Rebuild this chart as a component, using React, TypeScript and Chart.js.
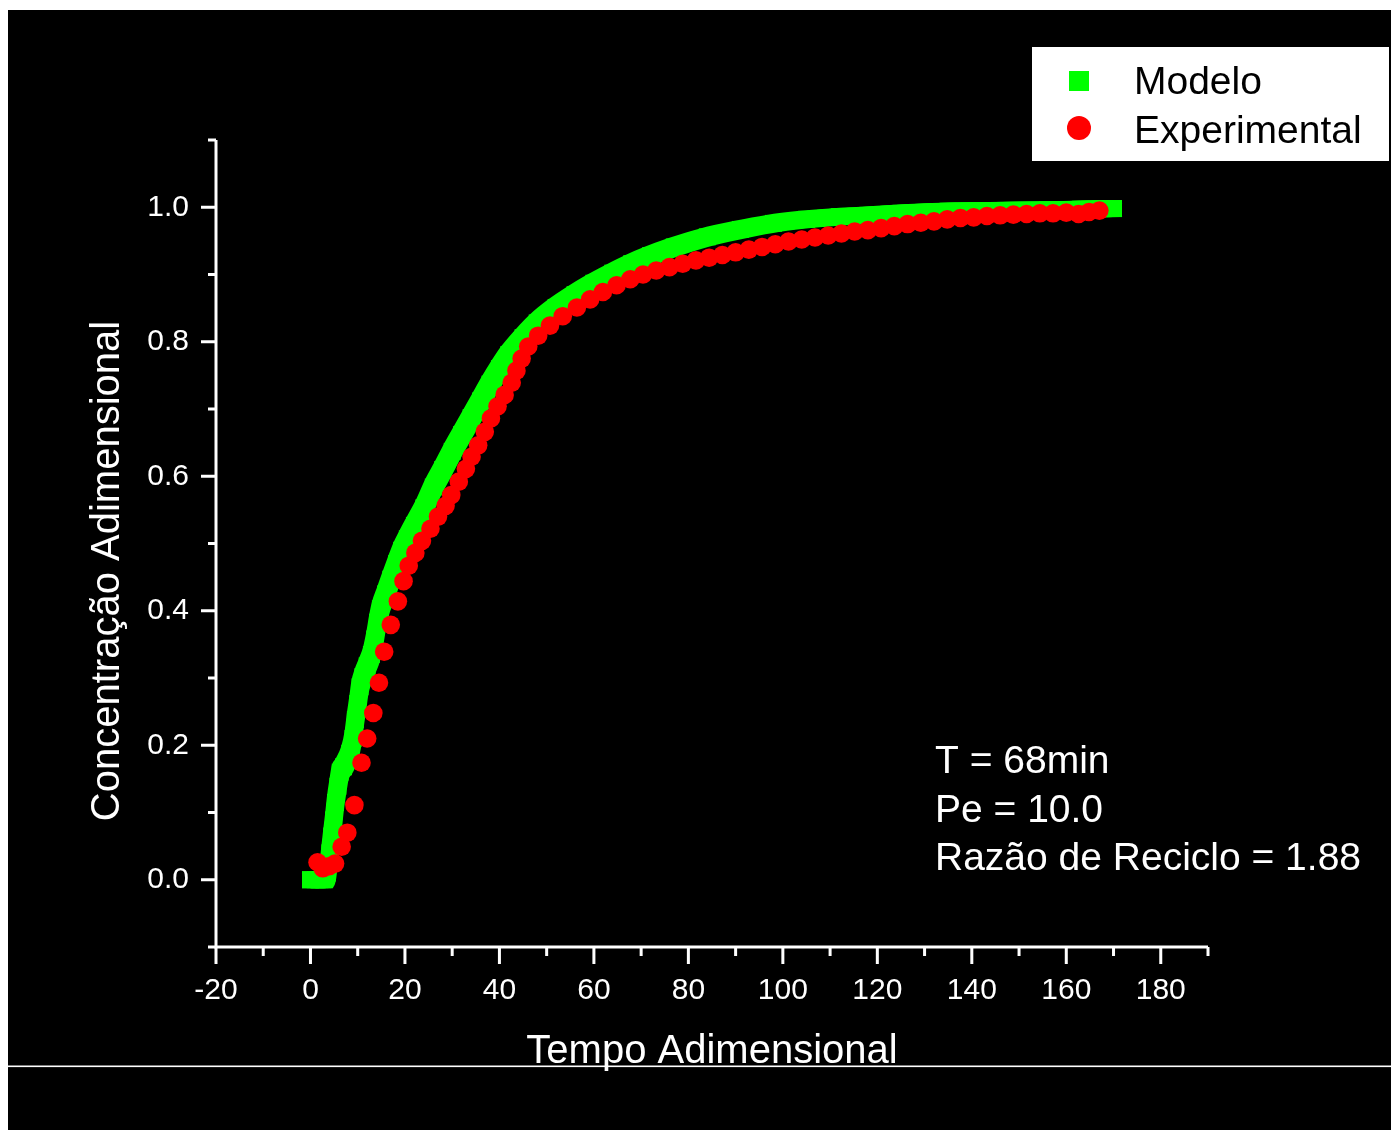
import { useEffect, useRef } from "react";
import { Chart, registerables } from "chart.js";

Chart.register(...registerables);

// ---- data ----
const xTickValues = [-20, 0, 20, 40, 60, 80, 100, 120, 140, 160, 180];
const yTickValues = [0, 0.2, 0.4, 0.6, 0.8, 1.0];

const seriesNames = ["Modelo", "Experimental"];

const modelX = [0, 1, 2, 3, 3.6, 4.1, 4.5, 4.9, 5.3, 5.8, 6.3, 7.0, 8.3, 9.0, 9.5, 10.0, 10.5, 11.1, 12.0, 12.9, 13.6, 14.2, 14.8, 15.9, 17.0, 18.2, 19.3, 20.5, 22.0, 24.0, 26.0, 28.0, 30.0, 32.0, 34.0, 36.0, 38.0, 40.0, 42.0, 45.0, 48.0, 52.0, 56.0, 60.0, 64.0, 68.0, 72.0, 77.0, 84.0, 91.0, 98.0, 105.0, 112.0, 118.0, 125.0, 135.0, 145.0, 156.0, 163.0, 170.0];
const modelY = [0, 0, 0, 0, 0.01, 0.04, 0.065, 0.089, 0.115, 0.139, 0.16, 0.168, 0.188, 0.21, 0.238, 0.262, 0.287, 0.302, 0.318, 0.335, 0.358, 0.383, 0.403, 0.425, 0.447, 0.47, 0.49, 0.507, 0.527, 0.553, 0.584, 0.61, 0.637, 0.662, 0.687, 0.712, 0.737, 0.76, 0.781, 0.806, 0.828, 0.851, 0.87, 0.887, 0.902, 0.916, 0.928, 0.941, 0.956, 0.967, 0.976, 0.982, 0.986, 0.988, 0.991, 0.994, 0.995, 0.996, 0.997, 0.998];

const expX = [1.5, 2.6, 3.9, 5.2, 6.6, 7.8, 9.3, 10.8, 12.0, 13.3, 14.5, 15.6, 17.0, 18.5, 19.7, 20.8, 22.2, 23.6, 25.4, 27.0, 28.6, 29.8, 31.4, 32.9, 34.1, 35.5, 36.9, 38.2, 39.6, 41.1, 42.6, 43.6, 44.7, 46.1, 48.2, 50.7, 53.4, 56.4, 59.2, 61.9, 64.8, 67.7, 70.4, 73.2, 76.0, 78.8, 81.6, 84.4, 87.2, 90.0, 92.8, 95.6, 98.4, 101.2, 104.0, 106.8, 109.6, 112.4, 115.2, 118.0, 120.8, 123.6, 126.4, 129.2, 132.0, 134.8, 137.6, 140.4, 143.2, 146.0, 148.8, 151.6, 154.4, 157.2, 160.0, 162.6, 164.8, 167.0];
const expY = [0.026, 0.017, 0.02, 0.024, 0.049, 0.07, 0.111, 0.174, 0.21, 0.248, 0.293, 0.339, 0.379, 0.414, 0.444, 0.467, 0.486, 0.504, 0.522, 0.54, 0.556, 0.572, 0.592, 0.611, 0.629, 0.646, 0.666, 0.686, 0.704, 0.721, 0.739, 0.757, 0.775, 0.793, 0.809, 0.824, 0.838, 0.851, 0.863, 0.874, 0.884, 0.893, 0.9, 0.906, 0.911, 0.916, 0.921, 0.925, 0.929, 0.933, 0.937, 0.941, 0.945, 0.949, 0.952, 0.955, 0.958, 0.961, 0.964, 0.966, 0.969, 0.972, 0.975, 0.977, 0.979, 0.982, 0.984, 0.985, 0.987, 0.988, 0.989, 0.99, 0.991, 0.991, 0.992, 0.99, 0.993, 0.995];

const annotationLines = ["T = 68min", "Pe = 10.0", "Razão de Reciclo = 1.88"];
const xTitle = "Tempo Adimensional";
const yTitle = "Concentração Adimensional";

const FONT = '"Liberation Sans", Arial, Helvetica, sans-serif';
const GREEN = "#00ff00";
const RED = "#ff0000";

// Sweeps the square marker along the model curve (so the band looks like dense square markers)
const sweepPlugin = {
  id: "sweep",
  beforeDatasetDraw(chart: any, args: any) {
    if (args.index !== 0) return;
    const pts = args.meta.data;
    if (!pts || pts.length < 2) return;
    const ctx = chart.ctx;
    ctx.save();
    ctx.strokeStyle = GREEN;
    ctx.lineJoin = "round";
    const trace = (dx: number, dy: number) => {
      ctx.beginPath();
      pts.forEach((p: any, i: number) => {
        if (i === 0) {
          ctx.moveTo(p.x + dx, p.y + dy);
        } else {
          const q = pts[i - 1];
          if (q.cp2x !== undefined && p.cp1x !== undefined) {
            ctx.bezierCurveTo(q.cp2x + dx, q.cp2y + dy, p.cp1x + dx, p.cp1y + dy, p.x + dx, p.y + dy);
          } else {
            ctx.lineTo(p.x + dx, p.y + dy);
          }
        }
      });
      ctx.stroke();
    };
    ctx.lineCap = "square";
    ctx.lineWidth = 4;
    const a = 6.5;
    [[-a, -a], [a, a], [-a, a], [a, -a]].forEach(([dx, dy]) => trace(dx, dy));
    ctx.lineCap = "butt";
    ctx.lineWidth = 17;
    trace(0, 0);
    ctx.restore();
  },
};

const decorPlugin = {
  id: "decor",
  beforeDraw(chart: any) {
    const ctx = chart.ctx;
    ctx.save();
    ctx.fillStyle = "#000";
    ctx.fillRect(0, 0, chart.width, chart.height);
    ctx.restore();
  },
  afterDraw(chart: any) {
    const ctx = chart.ctx;
    const xs = chart.scales.x;
    const ys = chart.scales.y;
    const x0 = xs.getPixelForValue(xs.min);
    const x1 = xs.getPixelForValue(xs.max);
    const y0 = ys.getPixelForValue(ys.min);
    const y1 = ys.getPixelForValue(ys.max);
    ctx.save();
    ctx.strokeStyle = "#fff";
    ctx.lineWidth = 3;
    ctx.lineCap = "butt";
    // axis lines
    ctx.beginPath();
    ctx.moveTo(x0, y1);
    ctx.lineTo(x0, y0 + 1.5);
    ctx.moveTo(x0 - 1.5, y0);
    ctx.lineTo(x1, y0);
    ctx.stroke();
    // x ticks (major + minor every 10)
    ctx.beginPath();
    for (let k = 0; k <= Math.round((xs.max - xs.min) / 10); k++) {
      const v = xs.min + k * 10;
      const px = xs.getPixelForValue(v);
      const major = xTickValues.includes(v);
      ctx.moveTo(px, y0);
      ctx.lineTo(px, y0 + (major ? 17 : 9));
    }
    // y ticks (major + minor every 0.1)
    const kMin = Math.round(ys.min * 10);
    const kMax = Math.round(ys.max * 10);
    for (let k = kMin; k <= kMax; k++) {
      const v = k / 10;
      const py = ys.getPixelForValue(v);
      const major = k >= 0 && k <= 10 && k % 2 === 0;
      ctx.moveTo(x0 - (major ? 15 : 8), py);
      ctx.lineTo(x0, py);
    }
    ctx.stroke();

    // axis titles
    ctx.fillStyle = "#fff";
    ctx.font = `40px ${FONT}`;
    ctx.textAlign = "center";
    ctx.textBaseline = "alphabetic";
    ctx.fillText(xTitle, (x0 + x1) / 2, 1053);
    ctx.save();
    ctx.translate(111, 561);
    ctx.rotate(-Math.PI / 2);
    ctx.fillText(yTitle, 0, 0);
    ctx.restore();

    // annotation
    ctx.font = `39px ${FONT}`;
    ctx.textAlign = "left";
    annotationLines.forEach((t, i) => {
      ctx.fillText(t, 927, 763 + i * 48.5);
    });

    // legend
    ctx.fillStyle = "#fff";
    ctx.fillRect(1024, 37, 357, 114);
    ctx.fillStyle = GREEN;
    ctx.fillRect(1061, 61, 20, 20);
    ctx.fillStyle = RED;
    ctx.beginPath();
    ctx.arc(1071, 118, 12, 0, Math.PI * 2);
    ctx.fill();
    ctx.fillStyle = "#000";
    ctx.font = `39px ${FONT}`;
    ctx.fillText(seriesNames[0], 1126, 84);
    ctx.fillText(seriesNames[1], 1126, 133);

    // white separator line near bottom
    ctx.fillStyle = "#fff";
    ctx.fillRect(0, 1055.5, chart.width, 1.6);
    ctx.restore();
  },
};

export default function App() {
  const ref = useRef<HTMLCanvasElement>(null);
  useEffect(() => {
    const modelData = modelX.map((x, i) => ({ x, y: modelY[i] }));
    const expData = expX.map((x, i) => ({ x, y: expY[i] }));
    const chart = new Chart(ref.current as HTMLCanvasElement, {
      type: "scatter",
      data: {
        datasets: [
          {
            label: seriesNames[0],
            data: modelData,
            showLine: true,
            borderColor: GREEN,
            backgroundColor: GREEN,
            borderWidth: 17,
            borderJoinStyle: "round",
            borderCapStyle: "butt",
            cubicInterpolationMode: "monotone",
            pointStyle: "rect",
            pointRadius: 12,
            pointBorderWidth: 0,
            pointBackgroundColor: GREEN,
            order: 2,
          } as any,
          {
            label: seriesNames[1],
            data: expData,
            showLine: false,
            backgroundColor: RED,
            borderColor: RED,
            pointStyle: "circle",
            pointRadius: 9.3,
            pointBorderWidth: 0,
            pointBackgroundColor: RED,
            order: 1,
          } as any,
        ],
      },
      options: {
        animation: false,
        responsive: false,
        maintainAspectRatio: false,
        layout: { padding: { left: 0, right: 183, top: 130, bottom: 0 } },
        plugins: {
          legend: { display: false },
          tooltip: { enabled: false },
        },
        scales: {
          x: {
            type: "linear",
            min: -20,
            max: 190,
            grid: { display: false, drawTicks: false },
            border: { display: false },
            afterBuildTicks: (s: any) => {
              s.ticks = xTickValues.map((v) => ({ value: v }));
            },
            afterFit: (s: any) => {
              s.height = 183;
            },
            ticks: {
              color: "#fff",
              font: { family: FONT, size: 30 },
              padding: 26,
              maxRotation: 0,
              autoSkip: false,
              callback: (v: any) => String(v),
            },
          },
          y: {
            type: "linear",
            min: -0.1,
            max: 1.1,
            grid: { display: false, drawTicks: false },
            border: { display: false },
            afterBuildTicks: (s: any) => {
              s.ticks = yTickValues.map((v) => ({ value: v }));
            },
            afterFit: (s: any) => {
              s.width = 208;
            },
            ticks: {
              color: "#fff",
              font: { family: FONT, size: 30 },
              padding: 27,
              autoSkip: false,
              callback: (v: any) => Number(v).toFixed(1),
            },
          },
        },
      },
      plugins: [sweepPlugin, decorPlugin],
    } as any);
    return () => chart.destroy();
  }, []);

  return (
    <div
      style={{
        position: "fixed",
        left: 8,
        top: 10,
        width: 1383,
        height: 1120,
        background: "#000",
      }}
    >
      <canvas ref={ref} width={1383} height={1120} style={{ display: "block" }} />
    </div>
  );
}
